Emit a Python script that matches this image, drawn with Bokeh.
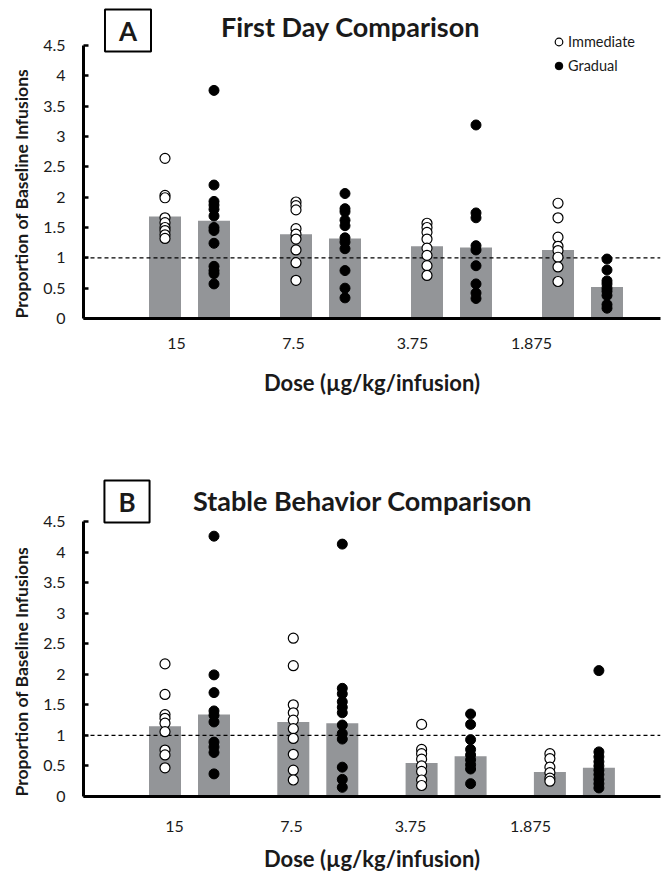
from bokeh.plotting import figure
from bokeh.models import (Range1d, FixedTicker, Span, Label, Legend, LegendItem,
                          ColumnDataSource, Title)
from bokeh.layouts import column
from bokeh.embed import file_html
from bokeh.resources import INLINE

# ---------------- data ----------------
doses = ["15", "7.5", "3.75", "1.875"]
series = ["Immediate", "Gradual"]

# Panel A: First Day Comparison
a_imm_mean = [1.68, 1.39, 1.19, 1.13]
a_grad_mean = [1.61, 1.32, 1.17, 0.52]
a_imm_pts = [
    [2.64, 2.03, 1.99, 1.66, 1.58, 1.50, 1.45, 1.38, 1.32],
    [1.92, 1.86, 1.79, 1.48, 1.39, 1.31, 1.13, 0.92, 0.63],
    [1.57, 1.50, 1.42, 1.31, 1.16, 1.04, 0.87, 0.71],
    [1.90, 1.66, 1.34, 1.19, 1.12, 1.01, 0.85, 0.61],
]
a_grad_pts = [
    [3.76, 2.20, 1.93, 1.87, 1.80, 1.69, 1.50, 1.45, 1.24, 0.86, 0.79, 0.74, 0.57],
    [2.06, 1.81, 1.76, 1.62, 1.53, 1.33, 1.26, 1.15, 0.79, 0.50, 0.34],
    [3.19, 1.74, 1.66, 1.20, 1.13, 0.87, 0.57, 0.42, 0.33],
    [0.98, 0.80, 0.62, 0.57, 0.50, 0.45, 0.38, 0.23, 0.17],
]

# Panel B: Stable Behavior Comparison
b_imm_mean = [1.15, 1.22, 0.55, 0.40]
b_grad_mean = [1.34, 1.20, 0.66, 0.47]
b_imm_pts = [
    [2.17, 1.67, 1.34, 1.28, 1.20, 1.06, 0.76, 0.68, 0.47],
    [2.59, 2.14, 1.50, 1.37, 1.25, 1.11, 0.95, 0.69, 0.43, 0.27],
    [1.18, 0.77, 0.70, 0.61, 0.50, 0.41, 0.27, 0.18],
    [0.70, 0.62, 0.48, 0.39, 0.30, 0.25],
]
b_grad_pts = [
    [4.26, 1.99, 1.70, 1.40, 1.33, 1.22, 0.89, 0.81, 0.72, 0.37],
    [4.13, 1.77, 1.68, 1.55, 1.46, 1.37, 1.17, 1.03, 0.94, 0.48, 0.28, 0.15],
    [1.35, 1.18, 0.93, 0.77, 0.68, 0.60, 0.52, 0.45, 0.21],
    [2.06, 0.73, 0.65, 0.57, 0.50, 0.43, 0.36, 0.28, 0.21, 0.14],
]

y_ticks = [0, 0.5, 1, 1.5, 2, 2.5, 3, 3.5, 4, 4.5]
y_max = 4.5

# ---------------- style ----------------
FONT = "Lato"
TXT = "#1a1a1a"
GRAY = "#939598"


def make_panel(title, letter, imm_mean, grad_mean, imm_pts, grad_pts,
               fig_top, axis_top, frame_bottom, fig_bottom, pitch,
               tick_px, title_xy, box_xy, tick_standoff, label_standoff,
               show_legend):
    frame_h = frame_bottom - fig_top
    ppu = (frame_bottom - axis_top) / y_max

    def xd(px):
        return (px - 189) / pitch

    def yd(py):
        return (frame_bottom - py) / ppu

    p = figure(frame_width=577, frame_height=frame_h,
               min_border_left=83, min_border_right=4,
               min_border_top=0,
               min_border_bottom=fig_bottom - frame_bottom,
               x_range=Range1d(xd(83), xd(660)),
               y_range=Range1d(0, frame_h / ppu),
               output_backend="svg", toolbar_location=None)
    p.outline_line_color = None
    p.xgrid.grid_line_color = None
    p.ygrid.grid_line_color = None

    off = 24.5 / pitch
    bw = 32 / pitch
    xs_imm = [i - off for i in range(len(doses))]
    xs_grad = [i + off for i in range(len(doses))]

    bars = ColumnDataSource(dict(x=xs_imm + xs_grad, top=imm_mean + grad_mean))
    p.vbar(x="x", top="top", width=bw, bottom=0, source=bars,
           fill_color=GRAY, line_color=None, level="image")

    p.add_layout(Span(location=1, dimension="width", line_color="black",
                      line_dash="4 3", line_width=1.3, level="underlay"))

    ix, iy, gx, gy = [], [], [], []
    for i, vals in enumerate(imm_pts):
        ix += [xs_imm[i]] * len(vals)
        iy += vals
    for i, vals in enumerate(grad_pts):
        gx += [xs_grad[i]] * len(vals)
        gy += vals
    r_imm = p.scatter(ix, iy, marker="circle", size=10, fill_color="white",
                      line_color="black", line_width=1.2)
    r_grad = p.scatter(gx, gy, marker="circle", size=10, fill_color="black",
                       line_color="black", line_width=1.0)

    if show_legend:
        leg = Legend(items=[LegendItem(label=series[0], renderers=[r_imm]),
                            LegendItem(label=series[1], renderers=[r_grad])],
                     location=(466, frame_bottom - 75), orientation="vertical",
                     border_line_color=None, background_fill_alpha=0,
                     padding=0, margin=0, spacing=4,
                     glyph_width=19, glyph_height=19, label_height=20,
                     label_standoff=0, label_text_font=FONT,
                     label_text_font_size="14.5px", label_text_color=TXT)
        p.add_layout(leg)

    # x axis
    xa = p.xaxis[0]
    tick_vals = [round(xd(px), 4) for px in tick_px]
    xa.ticker = FixedTicker(ticks=tick_vals)
    xa.major_label_overrides = {t: d for t, d in zip(tick_vals, doses)}
    xa.major_tick_line_color = None
    xa.major_tick_out = 0
    xa.major_tick_in = 0
    xa.minor_tick_line_color = None
    xa.axis_line_width = 3
    xa.axis_line_color = "black"
    xa.major_label_text_font = FONT
    xa.major_label_text_font_size = "16px"
    xa.major_label_text_color = TXT
    xa.major_label_standoff = tick_standoff
    xa.axis_label = "Dose (µg/kg/infusion)"
    xa.axis_label_text_font = FONT
    xa.axis_label_text_font_style = "bold"
    xa.axis_label_text_font_size = "22px"
    xa.axis_label_text_color = TXT
    xa.axis_label_standoff = label_standoff

    # y axis (line only from 0 to 4.5)
    ya = p.yaxis[0]
    ya.bounds = (0, y_max)
    ya.ticker = FixedTicker(ticks=y_ticks)
    ya.major_label_overrides = {t: f"{t:g}" for t in y_ticks}
    ya.major_tick_in = 5
    ya.major_tick_out = 0
    ya.major_tick_line_width = 2.5
    ya.major_tick_line_color = "black"
    ya.minor_tick_line_color = None
    ya.axis_line_width = 3
    ya.axis_line_color = "black"
    ya.major_label_text_font = FONT
    ya.major_label_text_font_size = "16px"
    ya.major_label_text_color = TXT
    ya.major_label_standoff = 18

    # y axis title, placed along the 0..4.5 span
    p.add_layout(Title(text="Proportion of Baseline Infusions", align="left",
                       offset=0, vertical_align="middle", standoff=15,
                       text_font=FONT, text_font_style="bold",
                       text_font_size="17.5px", text_color=TXT), "left")

    # chart title
    p.add_layout(Label(x=xd(title_xy[0]), y=yd(title_xy[1]), text=title,
                       text_align="center", text_baseline="middle",
                       text_font=FONT, text_font_style="bold",
                       text_font_size="27px", text_color=TXT))
    # boxed panel letter
    p.add_layout(Label(x=xd(box_xy[0]), y=yd(box_xy[1]), text=letter,
                       text_align="center", text_baseline="middle",
                       text_font=FONT, text_font_style="bold",
                       text_font_size="26px", text_color=TXT,
                       border_line_color="black", border_line_width=2,
                       background_fill_color="white",
                       padding=dict(left=14, right=14, top=5, bottom=5)))
    return p


pA = make_panel("First Day Comparison", "A", a_imm_mean, a_grad_mean,
                a_imm_pts, a_grad_pts,
                fig_top=0, axis_top=45, frame_bottom=318, fig_bottom=440,
                pitch=131, tick_px=[176, 293, 412, 531],
                title_xy=(350, 26), box_xy=(127.5, 30),
                tick_standoff=19, label_standoff=17, show_legend=True)

pB = make_panel("Stable Behavior Comparison", "B", b_imm_mean, b_grad_mean,
                b_imm_pts, b_grad_pts,
                fig_top=440, axis_top=521, frame_bottom=796, fig_bottom=876,
                pitch=128.3, tick_px=[174, 291, 410, 530],
                title_xy=(362, 500), box_xy=(126.5, 501),
                tick_standoff=24, label_standoff=10, show_legend=False)

layout = column(pA, pB, spacing=0)
open("out.html", "w").write(file_html(layout, INLINE))
